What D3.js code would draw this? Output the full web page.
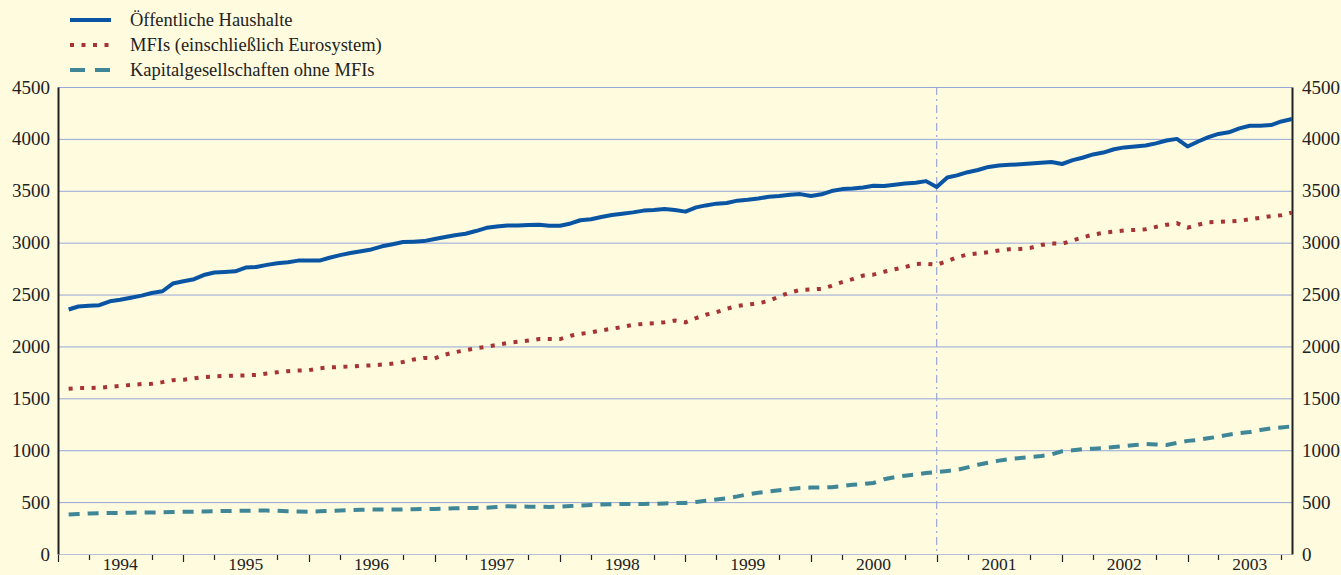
<!DOCTYPE html>
<html>
<head>
<meta charset="utf-8">
<script src="https://cdn.jsdelivr.net/npm/d3@7"></script>
<style>
  html, body { margin: 0; padding: 0; background: #fefbdf; }
  svg { display: block; }
  text { font-family: "Liberation Serif", "DejaVu Serif", serif; fill: #222; }
</style>
</head>
<body>
<div id="chart"></div>
<script>
// monthly values, Jan 1994 .. Oct 2003 (end of month)
const haushalte = [
  2356, 2385, 2392, 2397, 2435, 2450, 2470, 2490, 2515, 2532, 2606, 2628,
  2648, 2688, 2712, 2718, 2724, 2760, 2766, 2786, 2802, 2812, 2827, 2827,
  2827, 2855, 2880, 2900, 2918, 2935, 2965, 2985, 3006, 3010, 3015, 3035,
  3055, 3072, 3086, 3112, 3143, 3155, 3165, 3165, 3170, 3172, 3162, 3163,
  3185, 3216, 3225, 3248, 3266, 3278, 3292, 3309, 3315, 3325, 3315, 3299,
  3340, 3359, 3376, 3383, 3405, 3413, 3426, 3443, 3449, 3462, 3468, 3449,
  3466, 3497, 3516, 3522, 3532, 3548, 3545, 3558, 3570, 3578, 3593, 3536,
  3628, 3648, 3679, 3700, 3730, 3744, 3750, 3755, 3762, 3770, 3777, 3758,
  3795, 3818, 3850, 3868, 3900, 3918, 3927, 3936, 3957, 3984, 4000, 3927,
  3975, 4014, 4048, 4063, 4101, 4127, 4127, 4133, 4168, 4191
];
const mfis = [
  1593, 1600, 1599, 1603, 1610, 1620, 1629, 1637, 1640, 1656, 1675, 1679,
  1692, 1705, 1712, 1716, 1719, 1721, 1726, 1740, 1751, 1762, 1768, 1771,
  1790, 1798, 1802, 1807, 1813, 1818, 1825, 1835, 1850, 1874, 1889, 1885,
  1922, 1944, 1964, 1983, 1997, 2015, 2034, 2045, 2057, 2071, 2071, 2071,
  2103, 2121, 2136, 2155, 2170, 2188, 2207, 2218, 2223, 2233, 2250, 2232,
  2274, 2305, 2330, 2363, 2390, 2403, 2415, 2440, 2482, 2520, 2545, 2550,
  2555, 2584, 2620, 2648, 2683, 2692, 2720, 2744, 2765, 2795, 2797, 2787,
  2822, 2860, 2885, 2897, 2909, 2925, 2936, 2940, 2950, 2977, 2993, 2990,
  3021, 3050, 3078, 3095, 3107, 3118, 3123, 3130, 3152, 3172, 3188, 3145,
  3172, 3196, 3200, 3205, 3211, 3225, 3240, 3255, 3265, 3290
];
const kapital = [
  380, 385, 390, 393, 395, 396, 398, 400, 400, 402, 405, 407,
  408, 410, 412, 414, 415, 417, 418, 418, 416, 413, 410, 408,
  412, 416, 420, 424, 426, 428, 428, 428, 430, 432, 433, 434,
  436, 440, 442, 444, 446, 452, 460, 458, 456, 455, 453, 456,
  462, 468, 473, 477, 480, 483, 483, 483, 484, 487, 490, 492,
  502, 514, 525, 537, 555, 575, 591, 603, 615, 627, 636, 640,
  641, 644, 655, 668, 674, 685, 720, 740, 755, 765, 780, 790,
  800, 810, 835, 860, 880, 900, 915, 925, 935, 945, 960, 990,
  1000, 1010, 1015, 1020, 1030, 1040, 1050, 1060, 1055, 1050, 1070, 1090,
  1100, 1115, 1130, 1150, 1165, 1175, 1195, 1210, 1220, 1230
];
const years = [1994, 1995, 1996, 1997, 1998, 1999, 2000, 2001, 2002, 2003];
const yTicks = [0, 500, 1000, 1500, 2000, 2500, 3000, 3500, 4000, 4500];
const seriesNames = [
  "Öffentliche Haushalte",
  "MFIs (einschließlich Eurosystem)",
  "Kapitalgesellschaften ohne MFIs"
];

const width = 1341, height = 575;
const margin = { top: 87, right: 49, bottom: 21, left: 58 };

const svg = d3.select("#chart").append("svg")
  .attr("width", width)
  .attr("height", height);

svg.append("rect").attr("width", width).attr("height", height).attr("fill", "#fefbdf");

const x = d3.scaleTime()
  .domain([new Date(1994, 0, 1), new Date(2003, 10, 1)])
  .range([margin.left, width - margin.right]);
const y = d3.scaleLinear()
  .domain([0, 4500])
  .range([height - margin.bottom, margin.top]);

// value of month i is drawn at the end of that month
const dates = haushalte.map((d, i) => new Date(1994, i + 1, 1));

// grid lines
svg.append("g")
  .selectAll("line")
  .data(yTicks)
  .enter()
  .append("line")
  .attr("x1", margin.left)
  .attr("x2", width - margin.right)
  .attr("y1", (d) => y(d) + 0.5)
  .attr("y2", (d) => y(d) + 0.5)
  .attr("stroke", (d) => (d === 0 ? "#b9bfd6" : "#97a7d8"))
  .attr("stroke-width", 1);

// vertical marker at start of 2001
svg.append("line")
  .attr("x1", x(new Date(2001, 0, 1)))
  .attr("x2", x(new Date(2001, 0, 1)))
  .attr("y1", y(4500))
  .attr("y2", y(0))
  .attr("stroke", "#9aa8d4")
  .attr("stroke-width", 1.2)
  .attr("stroke-dasharray", "8,4,2,4");

// axes
const yLeft = d3.axisLeft(y).tickValues(yTicks).tickFormat(d3.format("d")).tickSize(0).tickPadding(8);
const yRight = d3.axisRight(y).tickValues(yTicks).tickFormat(d3.format("d")).tickSize(0).tickPadding(10);

const gl = svg.append("g").attr("transform", "translate(" + margin.left + ",0)").call(yLeft);
const gr = svg.append("g").attr("transform", "translate(" + (width - margin.right) + ",0)").call(yRight);
[gl, gr].forEach((g) => {
  g.select(".domain").attr("stroke", "#222").attr("stroke-width", 2);
  g.selectAll("text")
    .style("font-family", "Liberation Serif, serif")
    .style("font-size", "19px")
    .attr("fill", "#222");
});

// bottom ticks: years long, quarters short
const quarters = d3.timeMonth.every(3).range(new Date(1994, 0, 1), new Date(2003, 11, 1))
  .filter((d) => d.getMonth() !== 6 && x(d) <= width - margin.right + 0.5);
svg.append("g")
  .selectAll("line")
  .data(quarters)
  .enter()
  .append("line")
  .attr("x1", (d) => Math.round(x(d)) + 0.5)
  .attr("x2", (d) => Math.round(x(d)) + 0.5)
  .attr("y1", y(0) + 1)
  .attr("y2", (d) => y(0) + (d.getMonth() === 0 ? 8 : 6))
  .attr("stroke", "#222")
  .attr("stroke-width", 1.2);

svg.append("g")
  .selectAll("text")
  .data(years)
  .enter()
  .append("text")
  .attr("x", (d) => x(new Date(d, 6, 1)))
  .attr("y", 570)
  .attr("text-anchor", "middle")
  .style("font-size", "17.5px")
  .text((d) => d);

// lines
const line = d3.line()
  .x((d, i) => x(dates[i]))
  .y((d) => y(d));

svg.append("path")
  .datum(kapital)
  .attr("fill", "none")
  .attr("stroke", "#3f8797")
  .attr("stroke-width", 4)
  .attr("stroke-dasharray", "11,8")
  .attr("d", line);

svg.append("path")
  .datum(mfis)
  .attr("fill", "none")
  .attr("stroke", "#a63434")
  .attr("stroke-width", 4)
  .attr("stroke-dasharray", "4,7.5")
  .attr("d", line);

svg.append("path")
  .datum(haushalte)
  .attr("fill", "none")
  .attr("stroke", "#0a55a3")
  .attr("stroke-width", 4)
  .attr("stroke-linejoin", "round")
  .attr("d", line);

// legend
const legendStyles = [
  { color: "#0a55a3", dash: null },
  { color: "#a63434", dash: "4,7.5" },
  { color: "#3f8797", dash: "15,10" }
];
const legend = svg.append("g");
seriesNames.forEach((name, i) => {
  const ly = 20 + i * 25;
  legend.append("line")
    .attr("x1", 70)
    .attr("x2", 111)
    .attr("y1", ly)
    .attr("y2", ly)
    .attr("stroke", legendStyles[i].color)
    .attr("stroke-width", 4)
    .attr("stroke-dasharray", legendStyles[i].dash);
  legend.append("text")
    .attr("x", 130)
    .attr("y", ly + 6)
    .style("font-size", "18.5px")
    .text(name);
});
</script>
</body>
</html>
